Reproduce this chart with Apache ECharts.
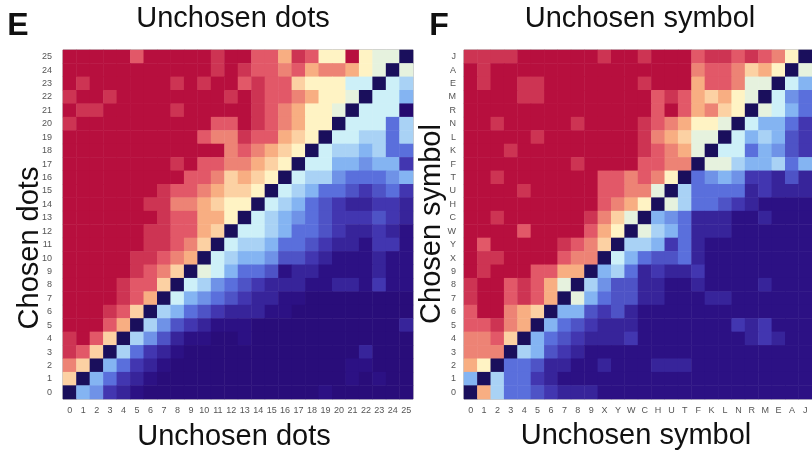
<!DOCTYPE html>
<html><head><meta charset="utf-8">
<script src="https://cdn.jsdelivr.net/npm/echarts@6/dist/echarts.min.js"></script>
<style>html,body{margin:0;padding:0;background:#fff}#c{width:812px;height:455px}</style>
</head><body><div id="c"></div>
<script>
// D marks the diagonal (chosen == unchosen) cells
const D = -1;
const dotLabels = ['0','1','2','3','4','5','6','7','8','9','10','11','12','13','14','15','16','17','18','19','20','21','22','23','24','25'];
const symbolLabels = ['0','1','2','3','4','5','6','7','8','9','X','Y','W','C','H','U','T','F','K','L','N','R','M','E','A','J'];

// Panel E: rows listed from top (chosen = 25) to bottom (chosen = 0); columns unchosen 0..25. Scale 0 (blue) .. 9 (red)
const dotsRows = [
[9,9,9,9,9,8,9,9,9,9,9,8.5,9,9,8,8,7,8.5,8,6,6,9,6,5.5,5.5,D],
[9,9,9,9,9,9,9,9,9,9,9,8.5,9,8.5,8,8,7.5,8,7,7.5,7.5,7,6,5.5,D,5.5],
[9,8.5,9,9,9,9,9,9,8.5,9,8.5,9,9,8,8.5,8,8,6.5,6,6,6,5,5,D,5,4.5],
[8.5,9,9,8.5,9,9,9,9,9,9,9,9,8.5,9,8.5,8,8,7.5,7,6,6,5.5,D,5,5,4],
[9,8.5,8.5,9,9,9,9,9,8.5,9,9,9,9,9,8.5,8,7.5,7,6,6,5.5,D,5,5,5,0],
[8.5,9,9,9,9,9,9,9,9,9,9,8,8,9,8.5,8,7.5,7,6,6,D,5,5,5,3,4.5],
[9,9,9,9,9,9,9,9,9,9,8,7.5,7.5,8.5,8,8,7,6.5,6,D,5,5,4.5,4.5,3,4.5],
[9,9,9,9,9,9,9,9,9,9,9,9,7.5,8,7.5,7,6.5,6,D,5,4.5,4.5,4,4.5,3,3],
[9,9,9,9,9,9,9,9,8.5,9,8,8,7.5,7.5,7,6.5,6,D,5,5,4,4,3.5,4,4,2],
[9,9,9,9,9,9,9,9,9,8,8,7.5,6.5,7,6.5,6,D,5,4.5,4.5,3.5,3,3,3,3.5,4],
[9,9,9,9,9,9,9,8.5,8,8,7.5,7,6.5,6.5,6,D,5,4.5,4,3,3,2.5,2,2.5,3,2],
[9,9,9,9,9,9,8.5,8.5,7.5,7.5,7,6.5,6,6,D,5,4.5,4,3,2.5,2,1.5,1.5,2,2,1.5],
[9,9,9,9,9,9,9,8.5,8,8,7,7,6,D,5,4.5,4,3.5,3,2.5,2,2,2,2.5,2,1.5],
[9,9,9,9,9,9,8.5,8.5,8,8,7,6.5,D,5,5,4.5,4,3,3,2.5,2,1.5,1.5,2,1.5,1],
[9,9,9,9,9,9,8.5,8.5,8,7.5,6.5,D,5,4.5,4.5,4,3,3,2.5,2,1.5,1.5,1,2,2,1],
[9,9,9,9,9,8.5,8.5,8,7.5,7,D,5,4.5,4,4,3.5,2.5,2.5,2,1.5,1,1,1,1.5,1,1],
[9,9,9,9,9,8.5,8,7.5,6.5,D,5.5,5,4,3,3,2.5,1,1.5,1.5,1,1,1,1,1.5,1,1],
[9,9,9,9,8.5,8,8,6.5,D,5,4.5,3.5,3,2.5,2,1.5,1.5,1.5,1,1,1.5,1.5,1,2,1,1],
[9,9,9,9,8.5,8,7,D,5,4,3.5,3,2.5,2,1.5,1.5,1,1,0.5,0.5,0.5,0.5,0.5,0.5,0.5,0.5],
[9,9,9,8.5,8,6.5,D,4.5,4,3,2.5,2,1.5,1.5,1.5,1,1,0.5,0.5,0.5,0.5,0.5,0.5,0.5,0.5,0.5],
[9,9,9,8,7,D,4.5,3.5,2.5,2,1.5,1,1,1,0.5,0.5,0.5,0.5,0.5,0.5,0.5,0.5,0.5,0.5,0.5,1.5],
[8.5,9,8,6.5,D,4.5,3.5,2.5,1.5,1,1,0.5,0.5,1,0.5,0.5,0.5,0.5,0.5,0.5,0.5,0.5,0.5,0.5,0.5,0.5],
[8.5,8,6.5,D,4.5,3,2,1.5,1,0.5,0.5,0.5,0.5,0.5,0.5,0.5,0.5,0.5,0.5,0.5,0.5,0.5,1.5,0.5,0.5,0.5],
[7.5,6.5,D,4,3,2,1.5,1,0.5,0.5,0.5,0.5,0.5,0.5,0.5,0.5,0.5,0.5,0.5,0.5,0.5,1,1,0.5,0.5,0.5],
[6.5,D,4,3,2,1.5,1,0.5,0.5,0.5,0.5,0.5,0.5,0.5,0.5,0.5,0.5,0.5,0.5,0.5,0.5,1,0.5,1,0.5,0.5],
[D,4,3.5,2,1.5,1,0.5,0.5,0.5,0.5,0.5,0.5,0.5,0.5,0.5,0.5,0.5,0.5,0.5,1,0.5,0.5,0.5,0.5,0.5,0.5]
];

// Panel F: rows from top (chosen = J) to bottom (chosen = 0); columns in symbolLabels order
const symbolRows = [
[8.5,8.5,8.5,8.5,9,9,9,9,9,9,8.5,9,9,8.5,9,9,9,8,8.5,8.5,8,8.5,8,7.5,6,D],
[9,8.5,9,9,9,9,9,9,9,9,9,9,9,9,9,9,9,7.5,8,8,7.5,6.5,7,6,D,5.5],
[9,8.5,9,9,8.5,8.5,9,9,9,9,9,9,9,8.5,9,9,9,7,8,8,7.5,5.5,5.5,D,5,4],
[9,9,9,9,8.5,8.5,9,9,9,9,9,9,9,9,8,8.5,8,7,6.5,7,6,5.5,D,5,3.5,3],
[9,9,9,9,9,9,9,9,9,9,9,9,9,9,8,9,8,7,7.5,6.5,6,D,5.5,5,4,3],
[9,9,8.5,9,9,9,9,9,8.5,9,9,9,9,8.5,8,7.5,7,6,6,5.5,D,5,4,4,3,2],
[9,9,9,9,9,8.5,9,9,9,9,9,9,9,8.5,7.5,7,6.5,5.5,5.5,D,5,4,4.5,4,2.5,2],
[9,9,9,8.5,9,9,9,9,9,9,9,9,9,8.5,8,7.5,7,5.5,D,5,5,3,4,3.5,2.5,2],
[9,9,9,9,9,9,9,9,8.5,9,9,9,9,8,8,7.5,7.5,D,5.5,5.5,4.5,4,4,4.5,3,4],
[9,9,8.5,9,9,9,9,9,9,9,8,8,7.5,8,7.5,6,D,3,3.5,4,3.5,2,2,1.5,2.5,1.5],
[9,9,9,9,8.5,9,9,9,9,9,8,8,7.5,7.5,5.5,D,4.5,3,3,3,3,1.5,2,1.5,1.5,1.5],
[9,9,9,9,9,9,9,9,9,9,8,7.5,7,6,D,5.5,4.5,3,3,2.5,2,1.5,1,1,1,1],
[9,9,8.5,9,9,9,9,9,9,8.5,7.5,6.5,5.5,D,4,3.5,3,1.5,1.5,1.5,1,1,1.5,1,1,1],
[9,9,9,9,8,9,9,9,9,8,7,6,D,5.5,4.5,4,3,1.5,1.5,1.5,1,1,1,1,1,1],
[9,8,9,9,9,9,9,8.5,8,7.5,6.5,D,4.5,4.5,4,2,3,1.5,1,1,1,1,1,1,1,1],
[9,8.5,8.5,9,9,9,9,8,7.5,7.5,D,5,4,3,2.5,2.5,3,1.5,1,1,1,1,1,1,1,1],
[9,8.5,9,9,9,8,8,7,7,D,4,4.5,3,1.5,2,1.5,1.5,2,1,1,1,1,1,1,1,1],
[8.5,9,9,8,8.5,8,7,5.5,D,4.5,3.5,2.5,2.5,1.5,1.5,1,1,1.5,1,1,1,1,1.5,1,1,1],
[8.5,9,9,8,8.5,8,7,D,5.5,4,3,2.5,2.5,1.5,1.5,1,1,1,1.5,1.5,1,1,1,1,1,1],
[8,9,9,7.5,7,6.5,D,4,4,2.5,2,2.5,1.5,1,1,1,1,1,1,1,1,1,1,1,1,1],
[8,8,8.5,7.5,7,D,4,3,2.5,2,1.5,1.5,1.5,1,1,1,1,1,1,1,2,1.5,2,1,1,1],
[7.5,7.5,8,6.5,D,4,3,2.5,2,1.5,1.5,1.5,2,1,1,1,1,1,1,1,1,1.5,2,1.5,1,1],
[7.5,7.5,7.5,D,4.5,4,2.5,2,1.5,1,1,1,1,1,1,1,1,1,1,1,1,1,1,1,1,1],
[7,6,D,3,3,2.5,1.5,1.5,1,1,1.5,1,1,1,1.5,1.5,1.5,1,1,1,1,1,1,1,1,1],
[4,D,4.5,3,3,2,1.5,1,1,1,1,1,1,1,1,1,1,1,1,1,1,1,1,1,1,1],
[D,7,4.5,3,3,2.5,2,1.5,1.5,1.5,1,1,1,1,1,1,1,1,1,1,1,1,1,1,1,1]
];

// colours for levels -1 (diagonal), 0 .. 9
const levelColors = ['#1a0f5c','#25096f','#2c1184','#4236b0','#5a6fdc','#84b4f2','#cdf0f8','#fff3c4','#f8ae82','#e25868','#b70f3e'];

function toCells(rows) {
  const out = [];
  rows.forEach((row, r) => {
    const y = rows.length - 1 - r;
    row.forEach((v, x) => out.push([x, y, v]));
  });
  return out;
}

const FONT = 'Liberation Sans, Arial, sans-serif';
const chart = echarts.init(document.getElementById('c'), null, {renderer: 'canvas'});

function xAx(gi, data) {
  return {gridIndex: gi, type: 'category', data: data,
    axisLine: {show: false}, axisTick: {show: false}, splitLine: {show: false},
    axisLabel: {interval: 0, fontSize: 9, color: '#555', margin: 7, fontFamily: FONT}};
}
function yAx(gi, data, margin) {
  return {gridIndex: gi, type: 'category', data: data,
    axisLine: {show: false}, axisTick: {show: false}, splitLine: {show: false},
    axisLabel: {interval: 0, fontSize: 9, color: '#555', margin: margin, fontFamily: FONT}};
}

function txt(x, y, text, size, weight, rot) {
  return {type: 'text', x: x, y: y, rotation: rot || 0,
    style: {text: text, fontSize: size, fontWeight: weight || 'normal', fontFamily: FONT,
      fill: '#111', align: 'center', verticalAlign: 'middle'}};
}

chart.setOption({
  animation: false,
  backgroundColor: '#fff',
  grid: [
    {left: 63, top: 50, width: 350, height: 349, show: true, borderColor: '#999', borderWidth: 1, backgroundColor: 'transparent'},
    {left: 464, top: 50, width: 350, height: 349, show: true, borderColor: '#999', borderWidth: 1, backgroundColor: 'transparent'}
  ],
  xAxis: [xAx(0, dotLabels), xAx(1, symbolLabels)],
  yAxis: [yAx(0, dotLabels, 11), yAx(1, symbolLabels, 8)],
  visualMap: {type: 'continuous', min: -1, max: 9, show: false, seriesIndex: [0, 1],
    inRange: {color: levelColors}},
  series: [
    {type: 'heatmap', xAxisIndex: 0, yAxisIndex: 0, data: toCells(dotsRows), progressive: 0,
      itemStyle: {borderWidth: 0}, emphasis: {disabled: true}},
    {type: 'heatmap', xAxisIndex: 1, yAxisIndex: 1, data: toCells(symbolRows), progressive: 0,
      itemStyle: {borderWidth: 0}, emphasis: {disabled: true}}
  ],
  graphic: [
    txt(18, 26, 'E', 32, 'bold'),
    txt(439, 26, 'F', 32, 'bold'),
    txt(233, 19, 'Unchosen dots', 29),
    txt(640, 19, 'Unchosen symbol', 29),
    txt(234, 437, 'Unchosen dots', 29),
    txt(636, 436, 'Unchosen symbol', 29),
    txt(30, 248, 'Chosen dots', 29, 'normal', Math.PI / 2),
    txt(432, 224, 'Chosen symbol', 29, 'normal', Math.PI / 2)
  ]
});
</script></body></html>
